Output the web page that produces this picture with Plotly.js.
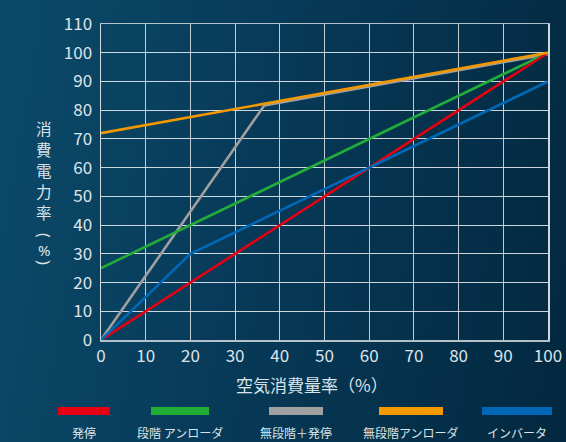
<!DOCTYPE html>
<html><head><meta charset="utf-8">
<script src="https://cdn.plot.ly/plotly-3.0.1.min.js"></script>
<style>
html,body{margin:0;padding:0;width:566px;height:442px;overflow:hidden;}
body{background:linear-gradient(100deg,#0c4a6a 0%,#073a58 45%,#03283f 100%);}
#chart{width:566px;height:442px;}
</style></head><body>
<div id="chart"></div>
<script>
const seriesNames = ['発停','段階 アンローダ','無段階＋発停','無段階アンローダ','インバータ'];
const seriesColors = ['#e60012','#22ac38','#a0a0a0','#f39800','#0068b7'];
const xStart = [0,100];
const yStart = [0,100];
const xStep = [0,100];
const yStep = [25,100];
const xMixed = [0,36.5,100];
const yMixed = [0,81.6,99.5];
const xUnload = [0,100];
const yUnload = [72,100];
const xInv = [0,20,100];
const yInv = [0,30,90];
const tickVals = [0,10,20,30,40,50,60,70,80,90,100,110];
const yTitleChars = ['消','費','電','力','率'];
const yTitleUnit = ['(','%',')'];
const xTitle = '空気消費量率（%）';

const xs=[xStart,xStep,xMixed,xUnload,xInv];
const ys=[yStart,yStep,yMixed,yUnload,yInv];
const order=[2,1,0,4,3];
const traces=order.map(i=>({x:xs[i],y:ys[i],type:'scatter',mode:'lines',name:seriesNames[i],
  line:{color:seriesColors[i],width:2.6},hoverinfo:'skip'}));

const font="'Noto Sans CJK JP','Noto Sans',sans-serif";
const tickColor='#dce4e9';
const shapes=[], annotations=[];
const legendX=[84,180,296,411,517];
const legendW=[52,58,54,64,70];
const px=x=>(x-101)/447, py=y=>(340-y)/316;
for(let i=0;i<5;i++){
  shapes.push({type:'rect',xref:'paper',yref:'paper',
    x0:px(legendX[i]-legendW[i]/2),x1:px(legendX[i]+legendW[i]/2),
    y0:py(415),y1:py(407),fillcolor:seriesColors[i],line:{width:0}});
  annotations.push({xref:'paper',yref:'paper',x:px(legendX[i]),y:py(432),
    text:seriesNames[i],showarrow:false,xanchor:'center',yanchor:'middle',borderpad:0,
    font:{family:font,size:12,color:tickColor}});
}
const yTitleY=[128,149,170,191,212];
yTitleChars.forEach((c,i)=>{
  annotations.push({xref:'paper',yref:'paper',x:px(44),y:py(yTitleY[i]),
    text:c,showarrow:false,xanchor:'center',yanchor:'middle',borderpad:0,
    font:{family:font,size:15.5,color:tickColor}});
});
const unitY=[236,250,263];
yTitleUnit.forEach((c,i)=>{
  annotations.push({xref:'paper',yref:'paper',x:px(44),y:py(unitY[i]),
    text:c,showarrow:false,xanchor:'center',yanchor:'middle',borderpad:0,
    textangle:i===1?0:90,
    font:{family:"'Noto Sans','DejaVu Sans',sans-serif",size:i===1?15:16,color:tickColor}});
});
annotations.push({xref:'paper',yref:'paper',x:px(312),y:py(384),
  text:xTitle,showarrow:false,xanchor:'center',yanchor:'middle',
  font:{family:font,size:17,color:tickColor}});

const layout={
  width:566,height:442,margin:{l:101,r:18,t:24,b:102},
  paper_bgcolor:'rgba(0,0,0,0)',plot_bgcolor:'rgba(0,0,0,0)',
  showlegend:false,
  font:{family:font,color:tickColor},
  xaxis:{range:[0,100],tickvals:tickVals.slice(0,11),showgrid:true,gridcolor:'rgba(255,255,255,0.75)',gridwidth:1,
    showline:true,linecolor:'rgba(200,210,215,0.9)',linewidth:1.5,mirror:true,zeroline:false,
    ticks:'',ticklen:0,tickfont:{family:font,size:17,color:tickColor},fixedrange:true},
  yaxis:{range:[0,110],tickvals:tickVals,showgrid:true,gridcolor:'rgba(255,255,255,0.8)',gridwidth:1,
    showline:true,linecolor:'rgba(230,235,240,0.9)',linewidth:1.5,mirror:true,zeroline:false,
    ticks:'outside',ticklen:4,tickcolor:'rgba(0,0,0,0)',tickfont:{family:font,size:17,color:tickColor},fixedrange:true},
  shapes:shapes,annotations:annotations
};
Plotly.newPlot('chart',traces,layout,{displayModeBar:false,staticPlot:true});
</script></body></html>
